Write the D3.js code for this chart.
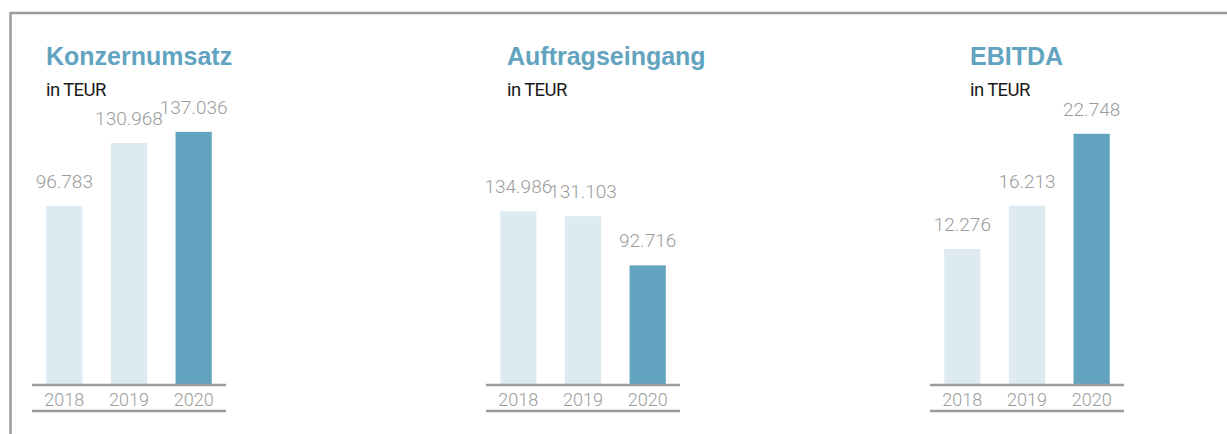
<!DOCTYPE html>
<html>
<head>
<meta charset="utf-8">
<script src="https://cdn.jsdelivr.net/npm/d3@7"></script>
<style>
  body { margin: 0; background: #fff; }
  svg { display: block; }
</style>
</head>
<body>
<script>
// data
const years = ["2018", "2019", "2020"];
const titles = ["Konzernumsatz", "Auftragseingang", "EBITDA"];
const unit = "in TEUR";
const umsatz = [96783, 130968, 137036];
const auftrag = [134986, 131103, 92716];
const ebitda = [12276, 16213, 22748];

const W = 1227, H = 434;
const light = "#deeaf1", dark = "#62a3bf", grey = "#9b9b9b";
const fmt = d3.format(",d");
const label = v => fmt(v).replace(/,/g, ".");

const svg = d3.select("body").append("svg")
    .attr("width", W)
    .attr("height", H);

// frame (top + left edge only)
svg.append("line").attr("x1", 10).attr("x2", W).attr("y1", 13).attr("y2", 13)
    .attr("stroke", grey).attr("stroke-width", 2.5);
svg.append("line").attr("x1", 10.5).attr("x2", 10.5).attr("y1", 12).attr("y2", H)
    .attr("stroke", grey).attr("stroke-width", 2.5);

// layout of each panel: axis span, title x, scale top value and pixel height
const panels = [
    { values: umsatz, x0: 32, x1: 226, tx: 46, max: 150000, px: 276 },
    { values: auftrag, x0: 486, x1: 680, tx: 507, max: 150000, px: 192 },
    { values: ebitda, x0: 930, x1: 1124, tx: 970, max: 25000, px: 275 }
];

const base = 384;

panels.forEach((p, i) => {
    const g = svg.append("g");

    const x = d3.scaleBand()
        .domain(years)
        .range([p.x0, p.x1])
        .paddingInner(0.44)
        .paddingOuter(0.22);

    const y = d3.scaleLinear()
        .domain([0, p.max])
        .range([base, base - p.px]);

    g.append("text")
        .attr("x", p.tx).attr("y", 65)
        .attr("fill", dark)
        .attr("font-family", "Liberation Sans, Arial, sans-serif")
        .attr("font-weight", "bold")
        .attr("font-size", 25)
        .text(titles[i]);

    g.append("text")
        .attr("x", p.tx).attr("y", 96)
        .attr("fill", "#1a1a1a")
        .attr("font-family", "Roboto, Liberation Sans, sans-serif")
        .attr("font-size", 18.5)
        .attr("letter-spacing", -0.6)
        .text(unit);

    g.selectAll("rect")
        .data(p.values)
        .join("rect")
        .attr("x", (d, j) => x(years[j]))
        .attr("width", x.bandwidth())
        .attr("y", d => y(d))
        .attr("height", d => base - y(d))
        .attr("fill", (d, j) => j === years.length - 1 ? dark : light);

    g.selectAll("text.val")
        .data(p.values)
        .join("text")
        .attr("class", "val")
        .attr("x", (d, j) => x(years[j]) + x.bandwidth() / 2)
        .attr("y", d => y(d) - 18)
        .attr("text-anchor", "middle")
        .attr("fill", grey)
        .attr("font-family", "Roboto, Liberation Sans, sans-serif")
        .attr("font-weight", 300)
        .attr("font-size", 19)
        .text(label);

    // axis lines above and below the year labels
    [base + 1, base + 27].forEach(yy => {
        g.append("line")
            .attr("x1", p.x0).attr("x2", p.x1)
            .attr("y1", yy).attr("y2", yy)
            .attr("stroke", grey).attr("stroke-width", 2.5);
    });

    g.selectAll("text.year")
        .data(years)
        .join("text")
        .attr("class", "year")
        .attr("x", d => x(d) + x.bandwidth() / 2)
        .attr("y", base + 22)
        .attr("text-anchor", "middle")
        .attr("fill", grey)
        .attr("font-family", "Roboto, Liberation Sans, sans-serif")
        .attr("font-weight", 300)
        .attr("font-size", 18)
        .text(d => d);
});
</script>
</body>
</html>
